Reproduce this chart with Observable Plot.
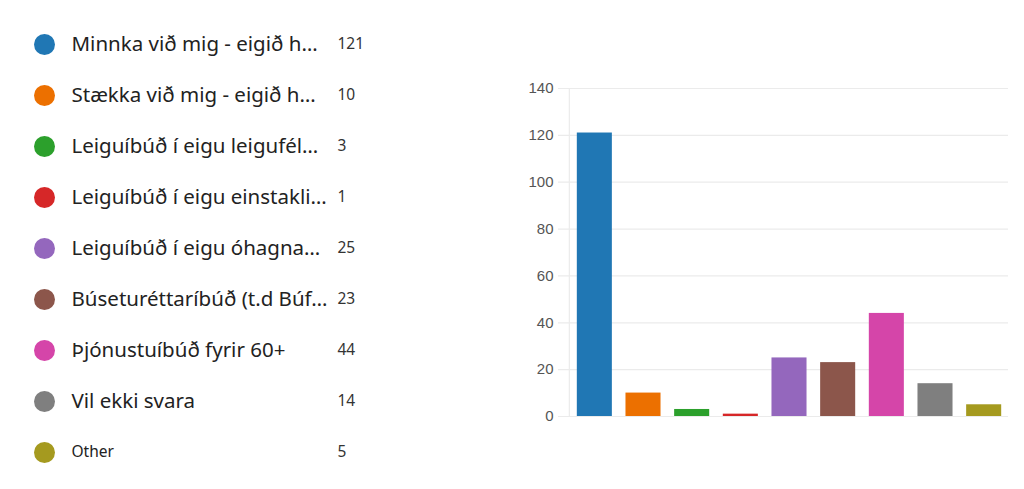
<!DOCTYPE html>
<html>
<head>
<meta charset="utf-8">
<script src="https://cdn.jsdelivr.net/npm/d3@7"></script>
<script src="https://cdn.jsdelivr.net/npm/@observablehq/plot@0.6"></script>
<style>
  html, body { margin: 0; padding: 0; background: #fff; }
  #wrap { position: relative; width: 1024px; height: 489px; overflow: hidden; }
  #legend { position: absolute; left: 0; top: 0; }
  #chart { position: absolute; left: 500px; top: 0; }
</style>
</head>
<body>
<div id="wrap"><div id="legend"></div><div id="chart"></div></div>
<script>
const categories = [
  "Minnka við mig - eigið h…",
  "Stækka við mig - eigið h…",
  "Leiguíbúð í eigu leigufél…",
  "Leiguíbúð í eigu einstakli…",
  "Leiguíbúð í eigu óhagna…",
  "Búseturéttaríbúð (t.d Búf…",
  "Þjónustuíbúð fyrir 60+",
  "Vil ekki svara",
  "Other"
];
const counts = [121, 10, 3, 1, 25, 23, 44, 14, 5];
const colors = ["#2077b4", "#ec7000", "#2ca02c", "#d62728", "#9467bd", "#8c564b", "#d545a9", "#7f7f7f", "#a59a1f"];
const yTicks = [0, 20, 40, 60, 80, 100, 120, 140];

const data = categories.map((c, i) => ({cat: c, value: counts[i], color: colors[i], small: c === "Other"}));

// Legend
const legend = Plot.plot({
  width: 380,
  height: 489,
  marginLeft: 0,
  marginRight: 0,
  marginTop: 42,
  marginBottom: 36,
  x: {domain: [0, 380], range: [0, 380], axis: null},
  y: {type: "point", domain: categories, axis: null, padding: 0},
  style: {fontFamily: "'Noto Sans', 'Open Sans', sans-serif", background: "transparent"},
  marks: [
    Plot.dot(data, {x: () => 44, y: "cat", r: 10.5, fill: "color", stroke: "none"}),
    Plot.text(data.filter(d => !d.small), {x: () => 71, y: "cat", text: "cat", textAnchor: "start", fill: "#222", fontSize: 20.5}),
    Plot.text(data.filter(d => d.small), {x: () => 71, y: "cat", text: "cat", textAnchor: "start", fill: "#222", fontSize: 15.5}),
    Plot.text(data, {x: () => 337, y: "cat", text: d => String(d.value), textAnchor: "start", fill: "#333", fontSize: 15.5})
  ]
});
document.getElementById("legend").appendChild(legend);

// Bar chart
const chart = Plot.plot({
  width: 524,
  height: 489,
  marginTop: 88,
  marginBottom: 73,
  marginLeft: 70,
  marginRight: 16,
  x: {domain: categories, paddingInner: 0.28, paddingOuter: 0.14, round: false, axis: null},
  y: {domain: [0, 140], axis: null},
  style: {fontFamily: "Arial, 'Liberation Sans', sans-serif", background: "transparent"},
  marks: [
    Plot.ruleY(yTicks, {y: d => d, stroke: "#ebebeb", strokeWidth: 1.2, insetLeft: -12}),
    Plot.ruleX([categories[0]], {x: d => d, stroke: "#ebebeb", strokeWidth: 1.2, dx: -25.5, y1: 0, y2: 140}),
    Plot.barY(data, {x: "cat", y: "value", fill: "color"}),
    Plot.axisY(yTicks, {tickSize: 0, tickPadding: 17, fontSize: 15, fill: "#555", label: null, tickFormat: d => String(d)})
  ]
});
document.getElementById("chart").appendChild(chart);
</script>
</body>
</html>
